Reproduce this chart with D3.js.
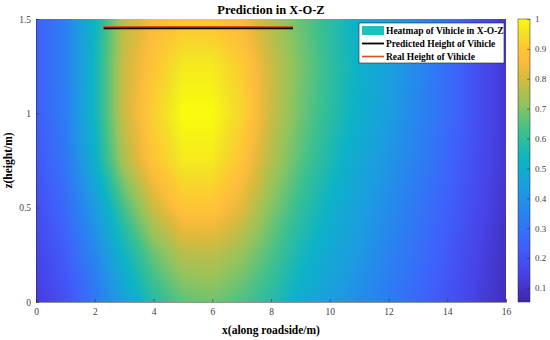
<!DOCTYPE html>
<html lang="en">
<head>
<meta charset="utf-8">
<title>Prediction in X-O-Z</title>
<script src="https://d3js.org/d3.v7.min.js"></script>
<style>
	body { margin: 0; background: #fff; }
	text { font-family: "Liberation Serif", "Times New Roman", serif; }
</style>
</head>
<body>
<div id="chart"></div>
<script>
// grid positions of the heatmap samples
var xGrid = [0, 1, 2, 3, 4, 5, 6, 7, 8, 9, 10, 11, 12, 13, 14, 15, 16];
var zGrid = [0, 0.25, 0.5, 0.75, 1.0, 1.25, 1.5];
// heat values, one row per zGrid entry (bottom to top)
var heatZ000 = [0.12, 0.19, 0.30, 0.46, 0.58, 0.66, 0.68, 0.64, 0.58, 0.50, 0.44, 0.38, 0.32, 0.26, 0.20, 0.14, 0.08];
var heatZ025 = [0.15, 0.23, 0.36, 0.53, 0.67, 0.76, 0.77, 0.72, 0.64, 0.55, 0.48, 0.42, 0.35, 0.29, 0.22, 0.15, 0.09];
var heatZ050 = [0.18, 0.27, 0.43, 0.63, 0.79, 0.89, 0.89, 0.82, 0.70, 0.60, 0.52, 0.45, 0.38, 0.31, 0.24, 0.17, 0.10];
var heatZ075 = [0.21, 0.31, 0.51, 0.75, 0.89, 0.97, 0.97, 0.89, 0.76, 0.65, 0.56, 0.48, 0.41, 0.34, 0.26, 0.18, 0.11];
var heatZ100 = [0.23, 0.33, 0.54, 0.79, 0.92, 1.00, 1.00, 0.93, 0.79, 0.68, 0.59, 0.51, 0.44, 0.36, 0.28, 0.19, 0.11];
var heatZ125 = [0.24, 0.34, 0.54, 0.79, 0.89, 0.97, 0.97, 0.91, 0.79, 0.69, 0.60, 0.52, 0.45, 0.37, 0.28, 0.19, 0.11];
var heatZ150 = [0.24, 0.34, 0.53, 0.77, 0.85, 0.89, 0.89, 0.85, 0.76, 0.67, 0.59, 0.51, 0.45, 0.37, 0.28, 0.19, 0.11];
var heatRows = [heatZ000, heatZ025, heatZ050, heatZ075, heatZ100, heatZ125, heatZ150];

// predicted and real height lines
var predX = [2.3, 8.75], predZ = [1.45, 1.45];
var realX = [2.3, 8.75], realZ = [1.458, 1.458];

var xTicks = [0, 2, 4, 6, 8, 10, 12, 14, 16];
var zTicks = [0, 0.5, 1, 1.5];
var cbTicks = [0.1, 0.2, 0.3, 0.4, 0.5, 0.6, 0.7, 0.8, 0.9, 1];
var cbDomain = [0.053, 1.0];
var legendLabels = ["Heatmap of Vihicle in X-O-Z", "Predicted Height of Vihicle", "Real Height of Vihicle"];

// parula colormap (position along the bar, colour)
var parulaPos = [0, 0.1, 0.2, 0.3, 0.4, 0.5, 0.6, 0.7, 0.8, 0.85, 0.9, 0.95, 1];
var parulaCol = ["#3e26a8", "#4743e7", "#3f61fb", "#2b7ff2", "#1c9ce0", "#0cb3c6", "#3cc08f", "#92c45d", "#dcb93c", "#fbbc3c", "#fdc933", "#f3e126", "#f9fb0e"];

var width = 550, height = 340;
var plotL = 36, plotR = 506, plotT = 19, plotB = 302;

var svg = d3.select("#chart").append("svg")
	.attr("width", width)
	.attr("height", height);

var x = d3.scaleLinear().domain([0, 16]).range([plotL, plotR]);
var z = d3.scaleLinear().domain([0, 1.5]).range([plotB, plotT]);

var color = d3.scaleLinear()
	.domain(parulaPos.map(function(t) { return cbDomain[0] + (cbDomain[1] - cbDomain[0]) * t; }))
	.range(parulaCol)
	.clamp(true);

// bilinear lookup in the value grid (rendering only)
function sample(xv, zv) {
	var i = d3.bisectRight(xGrid, xv) - 1;
	var j = d3.bisectRight(zGrid, zv) - 1;
	i = Math.max(0, Math.min(xGrid.length - 2, i));
	j = Math.max(0, Math.min(zGrid.length - 2, j));
	var tx = (xv - xGrid[i]) / (xGrid[i + 1] - xGrid[i]);
	var tz = (zv - zGrid[j]) / (zGrid[j + 1] - zGrid[j]);
	tx = Math.max(0, Math.min(1, tx));
	tz = Math.max(0, Math.min(1, tz));
	var a = heatRows[j][i] * (1 - tx) + heatRows[j][i + 1] * tx;
	var b = heatRows[j + 1][i] * (1 - tx) + heatRows[j + 1][i + 1] * tx;
	return a * (1 - tz) + b * tz;
}

// draw the heatmap into a canvas
var pw = plotR - plotL, ph = plotB - plotT;
var canvas = document.createElement("canvas");
canvas.width = pw;
canvas.height = ph;
var ctx = canvas.getContext("2d");
var img = ctx.createImageData(pw, ph);
for (var py = 0; py < ph; py++) {
	for (var px = 0; px < pw; px++) {
		var c = d3.rgb(color(sample(x.invert(plotL + px + 0.5), z.invert(plotT + py + 0.5))));
		var k = (py * pw + px) * 4;
		img.data[k] = c.r; img.data[k + 1] = c.g; img.data[k + 2] = c.b; img.data[k + 3] = 255;
	}
}
ctx.putImageData(img, 0, 0);
svg.append("image")
	.attr("x", plotL).attr("y", plotT)
	.attr("width", pw).attr("height", ph)
	.attr("preserveAspectRatio", "none")
	.attr("href", canvas.toDataURL());

// axes
var xAxis = svg.append("g")
	.attr("transform", "translate(0," + plotB + ")")
	.call(d3.axisBottom(x).tickValues(xTicks).tickSize(-3).tickPadding(6).tickFormat(d3.format("d")));
var zAxis = svg.append("g")
	.attr("transform", "translate(" + plotL + ",0)")
	.call(d3.axisLeft(z).tickValues(zTicks).tickSize(-3).tickPadding(5).tickFormat(function(d) { return d; }));
[xAxis, zAxis].forEach(function(g) {
	g.select(".domain").attr("stroke", "#262626").attr("stroke-width", 0.5);
	g.selectAll(".tick line").attr("stroke", "#262626").attr("stroke-width", 0.5);
	g.selectAll(".tick text").attr("fill", "#404040").style("font-size", "9.5px")
		.style("font-family", "'Liberation Serif', serif");
});

// prediction lines
var line = d3.line().x(function(d) { return x(d[0]); }).y(function(d) { return z(d[1]); });
svg.append("path")
	.datum(realX.map(function(v, i) { return [v, realZ[i]]; }))
	.attr("fill", "none").attr("stroke", "#d95319").attr("stroke-width", 1.6)
	.attr("d", line);
svg.append("path")
	.datum(predX.map(function(v, i) { return [v, predZ[i]]; }))
	.attr("fill", "none").attr("stroke", "#000").attr("stroke-width", 1.8)
	.attr("d", line);

// title and labels
svg.append("text")
	.attr("x", (plotL + plotR) / 2).attr("y", 14)
	.attr("text-anchor", "middle")
	.style("font-size", "12.5px").style("font-weight", "bold")
	.text("Prediction in X-O-Z");
svg.append("text")
	.attr("x", (plotL + plotR) / 2).attr("y", 334)
	.attr("text-anchor", "middle")
	.style("font-size", "11.5px").style("font-weight", "bold")
	.text("x(along roadside/m)");
svg.append("text")
	.attr("transform", "translate(12," + ((plotT + plotB) / 2) + ") rotate(-90)")
	.attr("text-anchor", "middle")
	.style("font-size", "11.5px").style("font-weight", "bold")
	.text("z(height/m)");

// legend
var lg = svg.append("g").attr("transform", "translate(359,23)");
lg.append("rect")
	.attr("width", 145).attr("height", 40)
	.attr("fill", "#fff").attr("stroke", "#262626").attr("stroke-width", 0.6);
var rowY = [7.5, 20.5, 33.5];
lg.append("rect")
	.attr("x", 3).attr("y", rowY[0] - 4.5).attr("width", 22).attr("height", 9)
	.attr("fill", "#20bfc0");
lg.append("line")
	.attr("x1", 3).attr("x2", 25).attr("y1", rowY[1]).attr("y2", rowY[1])
	.attr("stroke", "#000").attr("stroke-width", 1.8);
lg.append("line")
	.attr("x1", 3).attr("x2", 25).attr("y1", rowY[2]).attr("y2", rowY[2])
	.attr("stroke", "#d95319").attr("stroke-width", 1.6);
lg.selectAll("text.lab")
	.data(legendLabels)
	.enter().append("text")
	.attr("class", "lab")
	.attr("x", 27)
	.attr("y", function(d, i) { return rowY[i]; })
	.attr("dy", "0.35em")
	.style("font-size", "9.5px").style("font-weight", "bold")
	.text(function(d) { return d; });

// colorbar
var cbLeft = 518, cbW = 12;
var cbScale = d3.scaleLinear().domain(cbDomain).range([plotB, plotT]);
var grad = svg.append("defs").append("linearGradient")
	.attr("id", "cbgrad")
	.attr("x1", "0%").attr("y1", "100%").attr("x2", "0%").attr("y2", "0%");
grad.selectAll("stop")
	.data(parulaCol)
	.enter().append("stop")
	.attr("offset", function(d, i) { return (100 * parulaPos[i]) + "%"; })
	.attr("stop-color", function(d) { return d; });
svg.append("rect")
	.attr("x", cbLeft).attr("y", plotT)
	.attr("width", cbW).attr("height", plotB - plotT)
	.attr("fill", "url(#cbgrad)")
	.attr("stroke", "#262626").attr("stroke-width", 0.5);
var cbAxis = svg.append("g")
	.attr("transform", "translate(" + (cbLeft + cbW) + ",0)")
	.call(d3.axisRight(cbScale).tickValues(cbTicks).tickSize(-3).tickPadding(5).tickFormat(function(d) { return d; }));
cbAxis.select(".domain").remove();
cbAxis.selectAll(".tick line").attr("stroke", "#262626").attr("stroke-width", 0.5);
cbAxis.selectAll(".tick text").attr("fill", "#404040").style("font-size", "9px")
	.style("font-family", "'Liberation Serif', serif");
</script>
</body>
</html>
